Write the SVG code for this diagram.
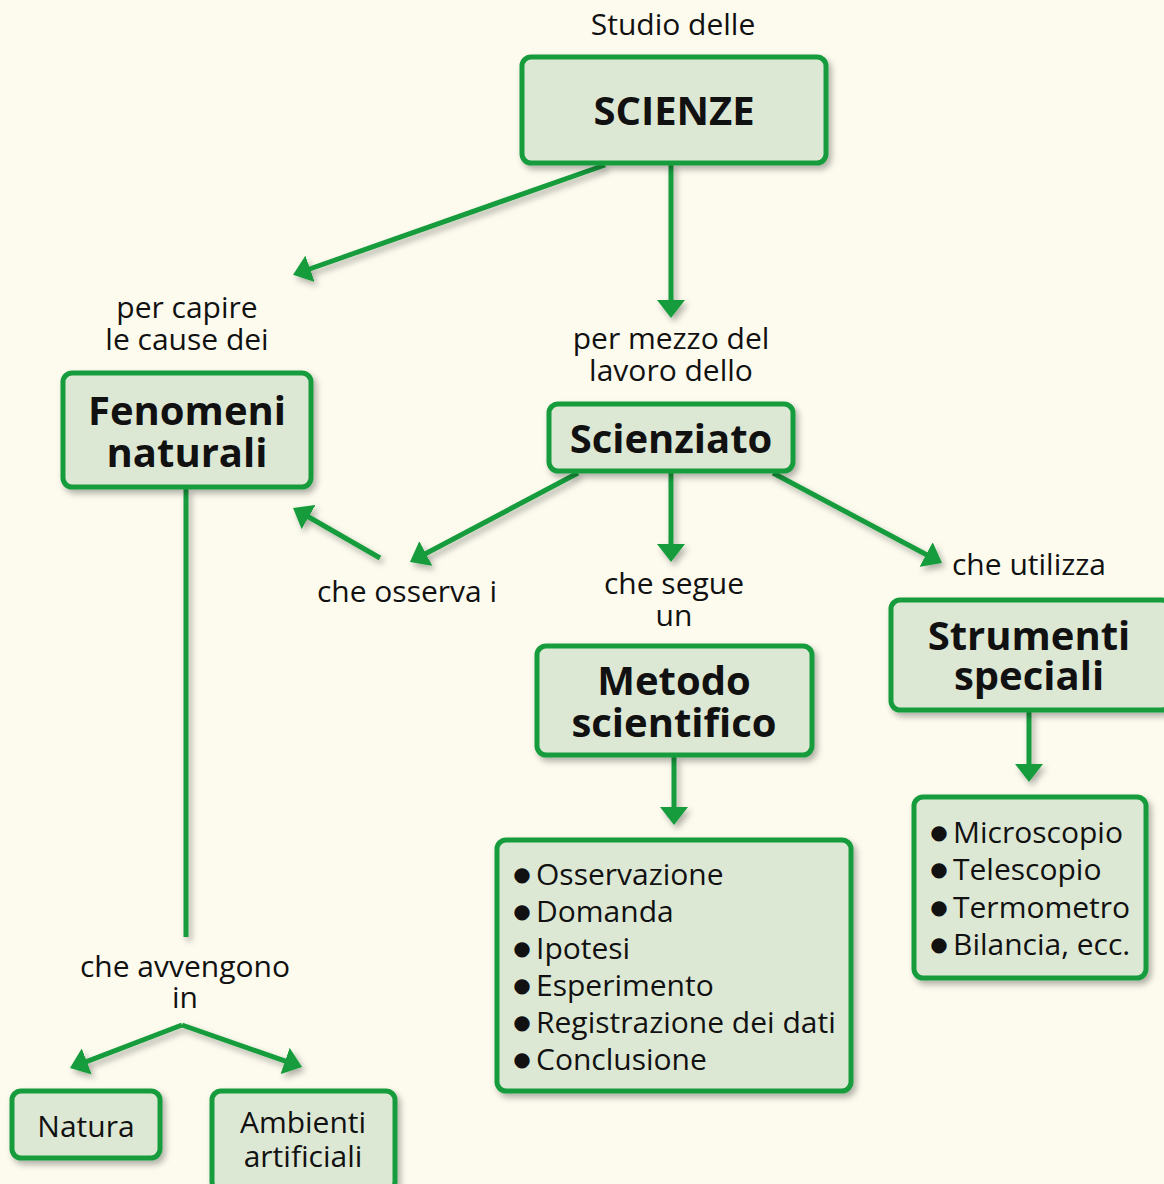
<svg xmlns="http://www.w3.org/2000/svg" width="1164" height="1184" viewBox="0 0 1164 1184">
<defs>
<filter id="sh" x="-20%" y="-20%" width="140%" height="140%">
<feDropShadow dx="3" dy="4" stdDeviation="3" flood-color="#000" flood-opacity="0.3"/>
</filter>
<marker id="ah" viewBox="0 0 18 28" markerWidth="18" markerHeight="28" refX="8" refY="14" markerUnits="userSpaceOnUse" orient="auto">
<path d="M0,0 L18,14 L0,28 Z" fill="#169c3c"/>
</marker>
<style>
.box{fill:#dde8d4;stroke:#169c3c;stroke-width:5;filter:url(#sh)}
.t{font-family:"Open Sans","Liberation Sans",sans-serif;font-size:30px;fill:#111;text-anchor:middle}
.b{font-weight:700;font-size:40px}
.it{text-anchor:start}
.bu{font-family:"DejaVu Sans",sans-serif;font-size:20px;fill:#111;text-anchor:middle}
.c{fill:none;stroke:#169c3c;stroke-width:5}
.a{marker-end:url(#ah)}
</style>
</defs>
<rect width="1164" height="1184" fill="#fdfbee"/>
<g id="connectors" filter="url(#sh)">
<line class="c a" x1="605" y1="165" x2="302.5" y2="271.5"/>
<line class="c a" x1="671" y1="164" x2="671" y2="308"/>
<line class="c" x1="186" y1="489" x2="186" y2="937"/>
<line class="c a" x1="182" y1="1025" x2="79.3" y2="1064.4"/>
<line class="c a" x1="182" y1="1025" x2="292.6" y2="1063.7"/>
<line class="c a" x1="578" y1="473" x2="418.8" y2="557.3"/>
<line class="c a" x1="671" y1="473" x2="671" y2="552"/>
<line class="c a" x1="773" y1="473" x2="933.2" y2="558.3"/>
<line class="c a" x1="380" y1="558" x2="301.7" y2="513"/>
<line class="c a" x1="674" y1="757" x2="674" y2="815"/>
<line class="c a" x1="1029" y1="712" x2="1029" y2="772"/>
</g>
<g id="labels">
<text class="t" x="673" y="35">Studio delle</text>
<text class="t" x="187" y="318">per capire<tspan x="187" dy="32">le cause dei</tspan></text>
<text class="t" x="671" y="349">per mezzo del<tspan x="671" dy="32">lavoro dello</tspan></text>
<text class="t" x="407" y="602">che osserva i</text>
<text class="t" x="674" y="594">che segue<tspan x="674" dy="32">un</tspan></text>
<text class="t" x="1029" y="575">che utilizza</text>
<text class="t" x="185" y="977">che avvengono<tspan x="185" dy="31">in</tspan></text>
</g>
<g id="scienze">
<rect class="box" x="522" y="57" width="304" height="106" rx="9"/>
<text class="t b" x="674" y="125">SCIENZE</text>
</g>
<g id="fenomeni">
<rect class="box" x="63" y="373" width="248" height="114" rx="9"/>
<text class="t b" x="187" y="425">Fenomeni<tspan x="187" dy="42">naturali</tspan></text>
</g>
<g id="scienziato">
<rect class="box" x="549" y="404" width="244" height="67" rx="9"/>
<text class="t b" x="671" y="453">Scienziato</text>
</g>
<g id="metodo">
<rect class="box" x="537" y="646" width="275" height="109" rx="9"/>
<text class="t b" x="674" y="695">Metodo<tspan x="674" dy="42">scientifico</tspan></text>
</g>
<g id="strumenti">
<rect class="box" x="891" y="600" width="280" height="110" rx="9"/>
<text class="t b" x="1029" y="650">Strumenti<tspan x="1029" dy="40">speciali</tspan></text>
</g>
<g id="fasi">
<rect class="box" x="497" y="840" width="354" height="251" rx="9"/>
<text class="bu" x="522" y="881">●</text>
<text class="bu" x="522" y="918">●</text>
<text class="bu" x="522" y="955">●</text>
<text class="bu" x="522" y="992">●</text>
<text class="bu" x="522" y="1029">●</text>
<text class="bu" x="522" y="1066">●</text>
<text class="t it" x="536" y="885">Osservazione<tspan x="536" dy="37">Domanda</tspan><tspan x="536" dy="37">Ipotesi</tspan><tspan x="536" dy="37">Esperimento</tspan><tspan x="536" dy="37">Registrazione dei dati</tspan><tspan x="536" dy="37">Conclusione</tspan></text>
</g>
<g id="elenco">
<rect class="box" x="914" y="797" width="232" height="181" rx="9"/>
<text class="bu" x="939" y="839">●</text>
<text class="bu" x="939" y="876">●</text>
<text class="bu" x="939" y="914">●</text>
<text class="bu" x="939" y="951">●</text>
<text class="t it" x="953" y="843">Microscopio<tspan x="953" dy="37">Telescopio</tspan><tspan x="953" dy="38">Termometro</tspan><tspan x="953" dy="37">Bilancia, ecc.</tspan></text>
</g>
<g id="natura">
<rect class="box" x="12" y="1091" width="148" height="67" rx="9"/>
<text class="t" x="86" y="1137">Natura</text>
</g>
<g id="ambienti">
<rect class="box" x="212" y="1091" width="183" height="100" rx="9"/>
<text class="t" x="303" y="1133">Ambienti<tspan x="303" dy="34">artificiali</tspan></text>
</g>
</svg>
